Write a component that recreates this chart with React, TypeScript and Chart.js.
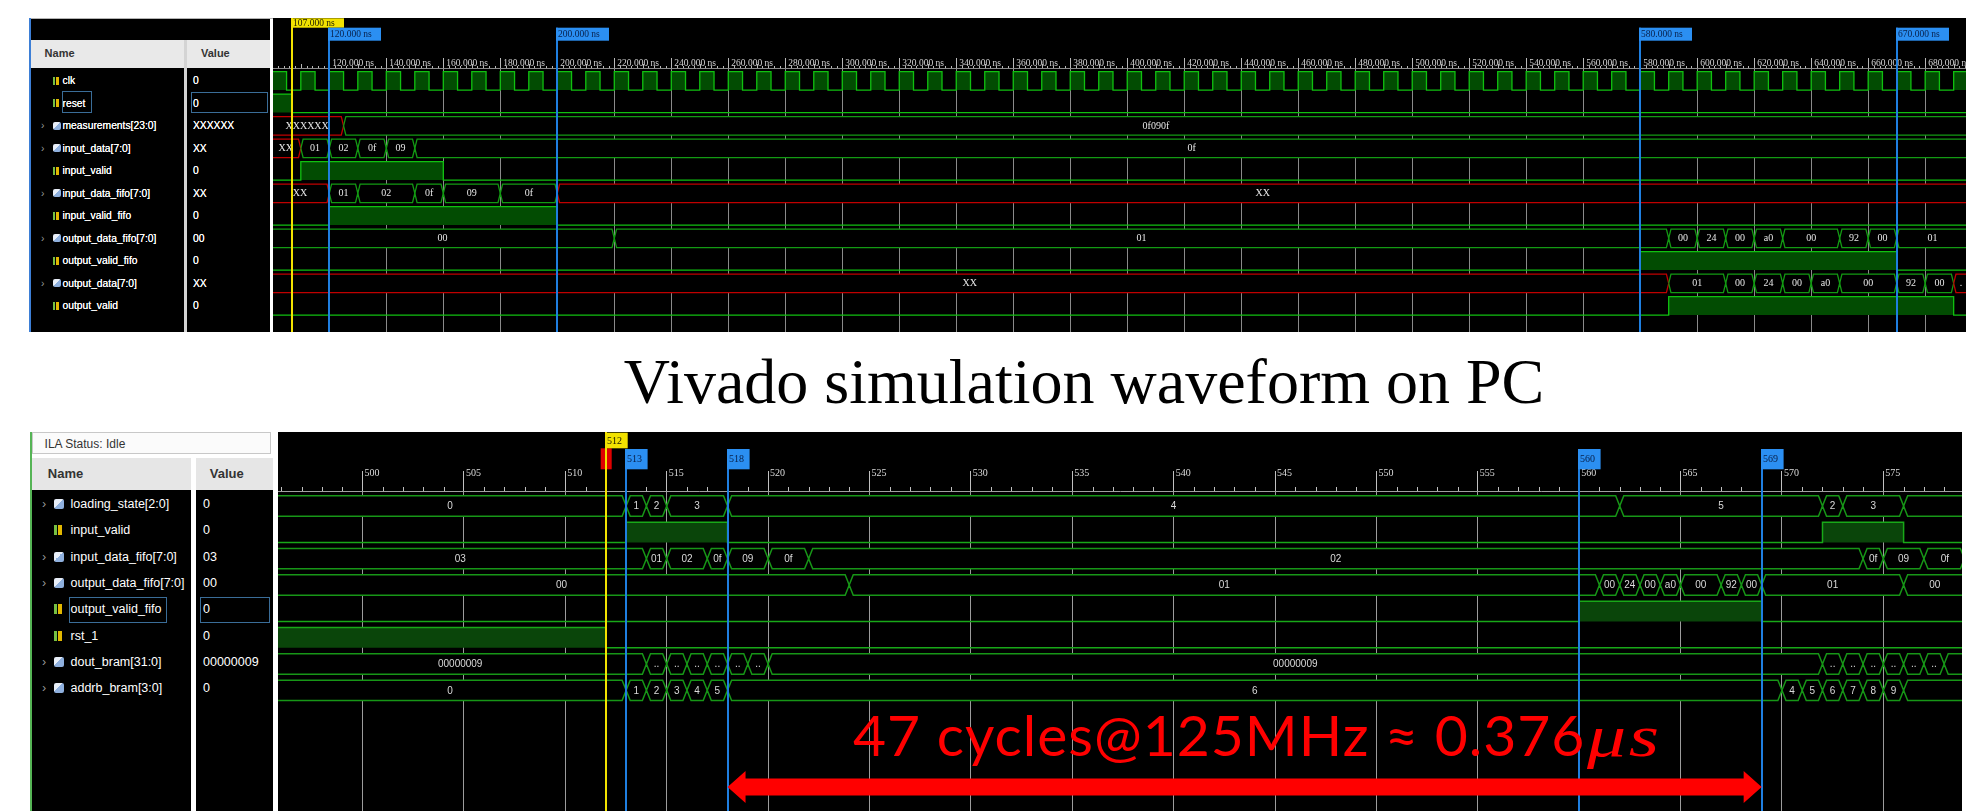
import React, { useEffect, useRef } from 'react';
import { Chart, registerables } from 'chart.js';

Chart.register(...registerables);

// ================= Top: Vivado simulation (time in ns) =================
const topSignalNames = ['clk', 'reset', 'measurements[23:0]', 'input_data[7:0]', 'input_valid', 'input_data_fifo[7:0]', 'input_valid_fifo', 'output_data_fifo[7:0]', 'output_valid_fifo', 'output_data[7:0]', 'output_valid'];
const topSignalValues = ['0', '0', 'XXXXXX', 'XX', '0', 'XX', '0', '00', '0', 'XX', '0'];
const topTickNs = [120, 140, 160, 180, 200, 220, 240, 260, 280, 300, 320, 340, 360, 380, 400, 420, 440, 460, 480, 500, 520, 540, 560, 580, 600, 620, 640, 660, 680];
const topCursorNs = [107];
const topMarkerNs = [120, 200, 580, 670];

const clkRiseNs = [100, 110, 120, 130, 140, 150, 160, 170, 180, 190, 200, 210, 220, 230, 240, 250, 260, 270, 280, 290, 300, 310, 320, 330, 340, 350, 360, 370, 380, 390, 400, 410, 420, 430, 440, 450, 460, 470, 480, 490, 500, 510, 520, 530, 540, 550, 560, 570, 580, 590, 600, 610, 620, 630, 640, 650, 660, 670, 680, 690];
const clkHighNs = 5;
const resetHighNs = [[100, 107]];
const measurementsEdgesNs = [125];
const measurementsVals = ['XXXXXX', '0f090f'];
const inputDataEdgesNs = [110, 120, 130, 140, 150];
const inputDataVals = ['XX', '01', '02', '0f', '09', '0f'];
const inputValidHighNs = [[110, 160]];
const inputDataFifoEdgesNs = [120, 130, 150, 160, 180, 200];
const inputDataFifoVals = ['XX', '01', '02', '0f', '09', '0f', 'XX'];
const inputValidFifoHighNs = [[120, 200]];
const outputDataFifoEdgesNs = [220, 590, 600, 610, 620, 630, 650, 660, 670];
const outputDataFifoVals = ['00', '01', '00', '24', '00', 'a0', '00', '92', '00', '01'];
const outputValidFifoHighNs = [[580, 670]];
const outputDataEdgesNs = [590, 610, 620, 630, 640, 650, 670, 680, 690];
const outputDataVals = ['XX', '01', '00', '24', '00', 'a0', '00', '92', '00', 'XX'];
const outputValidHighNs = [[590, 690]];

// ================= Bottom: ILA capture (sample index) =================
const botSignalNames = ['loading_state[2:0]', 'input_valid', 'input_data_fifo[7:0]', 'output_data_fifo[7:0]', 'output_valid_fifo', 'rst_1', 'dout_bram[31:0]', 'addrb_bram[3:0]'];
const botSignalValues = ['0', '0', '03', '00', '0', '0', '00000009', '0'];
const botTickSamples = [500, 505, 510, 515, 520, 525, 530, 535, 540, 545, 550, 555, 560, 565, 570, 575];
const botCursorSamples = [512];
const botMarkerSamples = [513, 518, 560, 569];
const loadingStateEdges = [513, 514, 515, 518, 562, 572, 573, 576];
const loadingStateVals = ['0', '1', '2', '3', '4', '5', '2', '3', ''];
const ilaInputValidHigh = [[513, 518], [572, 576]];
const ilaInputDataFifoEdges = [514, 515, 517, 518, 520, 522, 574, 575, 577, 579];
const ilaInputDataFifoVals = ['03', '01', '02', '0f', '09', '0f', '02', '0f', '09', '0f', ''];
const ilaOutputDataFifoEdges = [524, 561, 562, 563, 564, 565, 567, 568, 569, 576];
const ilaOutputDataFifoVals = ['00', '01', '00', '24', '00', 'a0', '00', '92', '00', '01', '00'];
const ilaOutputValidFifoHigh = [[560, 569]];
const rst1High = [[490, 512]];
const doutBramEdges = [514, 515, 516, 517, 518, 519, 520, 572, 573, 574, 575, 576, 577, 578];
const doutBramVals = ['00000009', '..', '..', '..', '..', '..', '..', '00000009', '..', '..', '..', '..', '..', '..', ''];
const addrbBramEdges = [513, 514, 515, 516, 517, 518, 570, 571, 572, 573, 574, 575, 576];
const addrbBramVals = ['0', '1', '2', '3', '4', '5', '6', '4', '5', '6', '7', '8', '9', ''];
const cycleArrowSamples = [518, 569];

const topRows: any[] = [
  { kind: 'bit', high: clkRiseNs.map((r) => [r, r + clkHighNs]) },
  { kind: 'bit', high: resetHighNs },
  { kind: 'bus', edges: measurementsEdgesNs, values: measurementsVals },
  { kind: 'bus', edges: inputDataEdgesNs, values: inputDataVals },
  { kind: 'bit', high: inputValidHighNs },
  { kind: 'bus', edges: inputDataFifoEdgesNs, values: inputDataFifoVals },
  { kind: 'bit', high: inputValidFifoHighNs },
  { kind: 'bus', edges: outputDataFifoEdgesNs, values: outputDataFifoVals },
  { kind: 'bit', high: outputValidFifoHighNs },
  { kind: 'bus', edges: outputDataEdgesNs, values: outputDataVals },
  { kind: 'bit', high: outputValidHighNs },
];

const botRows: any[] = [
  { kind: 'bus', edges: loadingStateEdges, values: loadingStateVals },
  { kind: 'bit', high: ilaInputValidHigh },
  { kind: 'bus', edges: ilaInputDataFifoEdges, values: ilaInputDataFifoVals },
  { kind: 'bus', edges: ilaOutputDataFifoEdges, values: ilaOutputDataFifoVals },
  { kind: 'bit', high: ilaOutputValidFifoHigh },
  { kind: 'bit', high: rst1High },
  { kind: 'bus', edges: doutBramEdges, values: doutBramVals },
  { kind: 'bus', edges: addrbBramEdges, values: addrbBramVals },
];

const TOP_GEOM = { left: 273, top: 18, width: 1693, height: 314, axisH: 50, xMin: 100.24, xMax: 694.33, yMin: -0.569, yMax: 11.164, half: 0.41, slope: 0.8 };
const BOT_GEOM = { left: 278, top: 432, width: 1684, height: 379, axisH: 59, xMin: 495.83, xMax: 578.88, yMin: -0.57, yMax: 11.583, half: 0.387, slope: 0.2 };

const TOP_STYLE = {
  bit: '#10c010', bus: '#139a13', xColor: '#c00000', fill: '#024c02', lw: 1.3,
  grid: '#8a8a8a', tickColor: '#b8b8b8', axisLine: '#8a8a8a', tickLength: 10, tickPad: -11, labelOffset: 3,
  tickText: '#d4d4d4', tickFont: { family: 'Liberation Serif', size: 9.5 },
  valueFont: '10px "Liberation Serif"', valueText: '#e6e6e6',
  minorStep: 2, midStep: 10, minorLen: 2, midLen: 4,
  markerFont: '9.5px "Liberation Serif"',
  cursorBox: { y: 0.3, h: 9.4, w: 53 }, markerBox: { y: 9.7, h: 13, w: 53 },
  trigger: null as any,
};
const BOT_STYLE = {
  bit: '#18a818', bus: '#179617', xColor: '#c00000', fill: '#0a450a', lw: 1.5,
  grid: '#9c9c9c', tickColor: '#c0c0c0', axisLine: '#a0a0a0', tickLength: 20, tickPad: -8.3, labelOffset: 2,
  tickText: '#dcdcdc', tickFont: { family: 'Liberation Serif', size: 10 },
  valueFont: '10px "Liberation Sans"', valueText: '#dadada',
  minorStep: 1, midStep: 1000, minorLen: 4, midLen: 4,
  markerFont: '10px "Liberation Serif"',
  cursorBox: { y: 0.7, h: 15.6, w: 22.7 }, markerBox: { y: 17, h: 20.3, w: 22.6 },
  trigger: { dx: -5.3, w: 11, y: 16.3, h: 21 },
};

function buildDatasets(rows: any[], g: any, st: any) {
  const ds: any[] = [];
  rows.forEach((r, i) => {
    const lo = i + g.half;
    const hi = i - g.half;
    if (r.kind === 'bit') {
      const pts: any[] = [{ x: g.xMin - 10, y: lo }];
      r.high.forEach(([a, b]: number[]) => {
        pts.push({ x: a, y: lo }, { x: a, y: hi }, { x: b, y: hi }, { x: b, y: lo });
      });
      pts.push({ x: g.xMax + 10, y: lo });
      ds.push({ data: pts, borderColor: st.bit, borderWidth: st.lw, backgroundColor: st.fill, fill: { value: lo }, pointRadius: 0, tension: 0, clip: 0 });
    } else {
      const d = g.slope;
      const top: any[] = [{ x: g.xMin - 10, y: hi }];
      const bot: any[] = [{ x: g.xMin - 10, y: lo }];
      r.edges.forEach((t: number) => {
        top.push({ x: t - d, y: hi }, { x: t, y: i }, { x: t + d, y: hi });
        bot.push({ x: t - d, y: lo }, { x: t, y: i }, { x: t + d, y: lo });
      });
      top.push({ x: g.xMax + 10, y: hi });
      bot.push({ x: g.xMax + 10, y: lo });
      const colorAt = (x: number) => {
        let k = 0;
        while (k < r.edges.length && r.edges[k] <= x) k++;
        return /X/.test(r.values[k] || '') ? st.xColor : st.bus;
      };
      const seg = { borderColor: (c: any) => colorAt((c.p0.parsed.x + c.p1.parsed.x) / 2) };
      ds.push({ data: top, borderColor: st.bus, borderWidth: st.lw, fill: false, pointRadius: 0, tension: 0, clip: 0, segment: seg });
      ds.push({ data: bot, borderColor: st.bus, borderWidth: st.lw, fill: '-1', backgroundColor: '#000000', pointRadius: 0, tension: 0, clip: 0, segment: seg });
    }
  });
  return ds;
}

function WaveChart(props: any) {
  const { geom, rows, ticks, tickLabel, cursors, markers, markerLabel, st, arrow, arrowY } = props;
  const ref = useRef<HTMLCanvasElement>(null);
  useEffect(() => {
    const canvas = ref.current as HTMLCanvasElement;
    const datasets = buildDatasets(rows, geom, st);
    const decor = {
      id: 'waveDecor',
      afterDatasetsDraw(chart: any) {
        const { ctx, chartArea: ca } = chart;
        const xs = chart.scales.x;
        const ys = chart.scales.y;
        const dPx = xs.getPixelForValue(geom.xMin + geom.slope) - xs.getPixelForValue(geom.xMin);
        ctx.save();
        ctx.beginPath();
        ctx.rect(ca.left, ca.top, ca.right - ca.left, ca.bottom - ca.top);
        ctx.clip();
        ctx.font = st.valueFont;
        ctx.fillStyle = st.valueText;
        ctx.textAlign = 'center';
        ctx.textBaseline = 'middle';
        rows.forEach((r: any, i: number) => {
          if (r.kind !== 'bus') return;
          const y = ys.getPixelForValue(i) + 0.5;
          const bounds = [-Infinity, ...r.edges, Infinity];
          for (let k = 0; k < r.values.length; k++) {
            const a = Math.max(bounds[k], xs.min);
            const b = Math.min(bounds[k + 1], xs.max);
            if (b <= a) continue;
            const pa = xs.getPixelForValue(a) + (bounds[k] > xs.min ? dPx : 0);
            const pb = xs.getPixelForValue(b) - (bounds[k + 1] < xs.max ? dPx : 0);
            const avail = pb - pa;
            let txt = r.values[k];
            if (!txt) continue;
            if (txt === '..' || ctx.measureText(txt).width > avail) {
              txt = ctx.measureText('..').width + 6 <= avail ? '..' : '.';
            }
            if (ctx.measureText(txt).width > avail) continue;
            ctx.fillText(txt, (pa + pb) / 2, y);
          }
        });
        ctx.restore();
      },
      afterDraw(chart: any) {
        const { ctx } = chart;
        const xs = chart.scales.x;
        const H = chart.height;
        ctx.save();
        // minor ticks along the time axis
        ctx.strokeStyle = st.tickColor;
        ctx.lineWidth = 1;
        const k0 = Math.ceil(xs.min / st.minorStep);
        for (let k = k0; k * st.minorStep <= xs.max; k++) {
          const v = k * st.minorStep;
          if (ticks.includes(v)) continue;
          const len = v % st.midStep === 0 ? st.midLen : st.minorLen;
          const px = Math.round(xs.getPixelForValue(v)) + 0.5;
          ctx.beginPath();
          ctx.moveTo(px, xs.bottom - len);
          ctx.lineTo(px, xs.bottom);
          ctx.stroke();
        }
        // cursor (yellow) and markers (blue)
        ctx.font = st.markerFont;
        ctx.textBaseline = 'middle';
        ctx.textAlign = 'left';
        cursors.forEach((v: number) => {
          const px = Math.round(xs.getPixelForValue(v));
          if (st.trigger) {
            ctx.fillStyle = '#e00000';
            ctx.fillRect(px + st.trigger.dx, st.trigger.y, st.trigger.w, st.trigger.h);
          }
          ctx.fillStyle = '#f2e200';
          ctx.fillRect(px - 1, 0, 2, H);
          ctx.fillRect(px - 1, st.cursorBox.y, st.cursorBox.w, st.cursorBox.h);
          ctx.fillStyle = '#1a1a00';
          ctx.fillText(markerLabel(v), px + 1, st.cursorBox.y + st.cursorBox.h / 2 + 0.5);
        });
        markers.forEach((v: number) => {
          const px = Math.round(xs.getPixelForValue(v));
          ctx.fillStyle = '#1f7fe0';
          ctx.fillRect(px - 1, st.markerBox.y, 2, H - st.markerBox.y);
          ctx.fillStyle = '#2b8ff2';
          ctx.fillRect(px - 1, st.markerBox.y, st.markerBox.w, st.markerBox.h);
          ctx.fillStyle = '#08204a';
          ctx.fillText(markerLabel(v), px + 1, st.markerBox.y + st.markerBox.h / 2 + 0.5);
        });
        // measurement arrow
        if (arrow) {
          const x0 = xs.getPixelForValue(arrow[0]);
          const x1 = xs.getPixelForValue(arrow[1]);
          const y = arrowY;
          const sh = 8.5, hh = 16, hl = 18;
          ctx.fillStyle = '#ff0000';
          ctx.beginPath();
          ctx.moveTo(x0, y);
          ctx.lineTo(x0 + hl, y - hh);
          ctx.lineTo(x0 + hl, y - sh);
          ctx.lineTo(x1 - hl, y - sh);
          ctx.lineTo(x1 - hl, y - hh);
          ctx.lineTo(x1, y);
          ctx.lineTo(x1 - hl, y + hh);
          ctx.lineTo(x1 - hl, y + sh);
          ctx.lineTo(x0 + hl, y + sh);
          ctx.lineTo(x0 + hl, y + hh);
          ctx.closePath();
          ctx.fill();
        }
        ctx.restore();
      },
    };
    const chart = new Chart(canvas, {
      type: 'line',
      data: { datasets },
      options: {
        animation: false,
        responsive: false,
        devicePixelRatio: 1,
        events: [],
        layout: { padding: 0 },
        plugins: { legend: { display: false }, tooltip: { enabled: false }, title: { display: false } },
        scales: {
          x: {
            type: 'linear',
            position: 'top',
            min: geom.xMin,
            max: geom.xMax,
            afterBuildTicks: (s: any) => { s.ticks = ticks.map((v: number) => ({ value: v })); },
            afterFit: (s: any) => { s.height = geom.axisH; s.paddingLeft = 0; s.paddingRight = 0; },
            grid: { color: st.grid, lineWidth: 1, drawTicks: true, tickLength: st.tickLength, tickColor: st.tickColor, tickWidth: 1 },
            border: { display: true, color: st.axisLine, width: 1 },
            ticks: {
              autoSkip: false, maxRotation: 0, minRotation: 0, align: 'start',
              padding: st.tickPad, labelOffset: st.labelOffset, color: st.tickText, font: st.tickFont,
              callback: (v: any) => tickLabel(Number(v)),
            },
          },
          y: { type: 'linear', display: false, min: geom.yMin, max: geom.yMax, reverse: true },
        },
      } as any,
      plugins: [decor],
    } as any);
    return () => chart.destroy();
  }, []);
  return (
    <canvas
      ref={ref}
      width={geom.width}
      height={geom.height}
      style={{ position: 'absolute', left: geom.left, top: geom.top, width: geom.width, height: geom.height, background: '#000' }}
    />
  );
}

function Abs(props: any) {
  const { x, y, w, h, bg, children, style } = props;
  return <div style={{ position: 'absolute', left: x, top: y, width: w, height: h, background: bg, ...style }}>{children}</div>;
}

function SignalList(props: any) {
  const { names, values, cy0, pitch, font, chevX, iconX, nameX, valueX, iconH, selected, shadow } = props;
  const lh = Math.round(font * 1.3);
  const txt = { position: 'absolute', lineHeight: lh + 'px', fontFamily: 'Liberation Sans', fontSize: font, color: '#ffffff', whiteSpace: 'nowrap', textShadow: shadow } as any;
  return (
    <>
      {names.map((n: string, i: number) => {
        const cy = cy0 + pitch * i;
        const bus = n.includes('[');
        return (
          <React.Fragment key={n}>
            {bus && (
              <div style={{ position: 'absolute', left: chevX, top: cy - lh / 2, lineHeight: lh + 'px', fontFamily: 'Liberation Sans', fontSize: font, color: '#9a9a9a' }}>›</div>
            )}
            {bus ? (
              <div style={{ position: 'absolute', left: iconX, top: cy - iconH / 2, width: iconH, height: iconH, background: 'linear-gradient(135deg,#e8eef8 0 45%,#8fb0de 45%)', borderRadius: 2 }} />
            ) : (
              <div style={{ position: 'absolute', left: iconX, top: cy - iconH / 2, width: iconH * 0.8, height: iconH, background: 'linear-gradient(90deg,#76c043 0 35%,transparent 35% 55%,#e2b700 55%)' }} />
            )}
            <div style={{ ...txt, left: nameX, top: cy - lh / 2 }}>{n}</div>
            <div style={{ ...txt, left: valueX, top: cy - lh / 2 }}>{values[i]}</div>
          </React.Fragment>
        );
      })}
      {selected.map((b: any, k: number) => (
        <div key={'sel' + k} style={{ position: 'absolute', left: b[0], top: b[1], width: b[2], height: b[3], border: '1px solid #3a6d98', boxSizing: 'border-box' }} />
      ))}
    </>
  );
}

export default function App() {
  return (
    <div style={{ position: 'absolute', left: 0, top: 0, width: 1987, height: 811, background: '#ffffff', overflow: 'hidden' }}>
      {/* ---------- top panel ---------- */}
      <Abs x={29} y={18} w={1937} h={1} bg="#b4b4b4" />
      <Abs x={29} y={18} w={2} h={314} bg="#3d7fd6" />
      <Abs x={31} y={19} w={239} h={313} bg="#000" />
      <Abs x={184} y={40} w={3} h={292} bg="#d4d4d4" />
      <Abs x={31} y={40} w={153} h={28} bg="#e9e9e9" />
      <Abs x={187} y={40} w={83} h={28} bg="#e9e9e9" />
      <div style={{ position: 'absolute', left: 44.6, top: 46, lineHeight: '14px', fontFamily: 'Liberation Sans', fontWeight: 'bold', fontSize: 11, color: '#333' }}>Name</div>
      <div style={{ position: 'absolute', left: 201, top: 46, lineHeight: '14px', fontFamily: 'Liberation Sans', fontWeight: 'bold', fontSize: 11, color: '#333' }}>Value</div>
      <SignalList
        names={topSignalNames}
        values={topSignalValues}
        cy0={80.8}
        pitch={22.5}
        font={10.3}
        chevX={41}
        iconX={53}
        nameX={62.5}
        valueX={193}
        iconH={8}
        shadow="0 0 0.4px #fff"
        selected={[[61.6, 91, 30, 22], [190.6, 91.7, 77, 21.6]]}
      />
      <WaveChart
        geom={TOP_GEOM}
        rows={topRows}
        ticks={topTickNs}
        tickLabel={(v: number) => v.toFixed(3) + ' ns'}
        cursors={topCursorNs}
        markers={topMarkerNs}
        markerLabel={(v: number) => v.toFixed(3) + ' ns'}
        st={TOP_STYLE}
        arrow={null}
        arrowY={0}
      />

      {/* ---------- caption ---------- */}
      <div style={{ position: 'absolute', left: 1084, top: 349.7, transform: 'translateX(-50%)', whiteSpace: 'nowrap', fontFamily: 'Liberation Serif', fontSize: 64, lineHeight: '64px', color: '#000' }}>
        Vivado simulation waveform on PC
      </div>

      {/* ---------- bottom panel ---------- */}
      <Abs x={30} y={432} w={2} h={379} bg="#55b455" />
      <Abs x={32} y={432} w={239} h={22} bg="#fbfbfb" style={{ border: '1px solid #c8c8c8', boxSizing: 'border-box' }} />
      <div style={{ position: 'absolute', left: 44.6, top: 436, lineHeight: '16px', fontFamily: 'Liberation Sans', fontSize: 12, color: '#333' }}>ILA Status: Idle</div>
      <Abs x={32} y={458} w={159} h={32} bg="#e6e6e6" />
      <Abs x={196} y={458} w={77} h={32} bg="#e6e6e6" />
      <Abs x={32} y={490} w={159} h={321} bg="#000" />
      <Abs x={196} y={490} w={77} h={321} bg="#000" />
      <div style={{ position: 'absolute', left: 47.8, top: 465, lineHeight: '17px', fontFamily: 'Liberation Sans', fontWeight: 'bold', fontSize: 13, color: '#333' }}>Name</div>
      <div style={{ position: 'absolute', left: 209.8, top: 465, lineHeight: '17px', fontFamily: 'Liberation Sans', fontWeight: 'bold', fontSize: 13, color: '#333' }}>Value</div>
      <SignalList
        names={botSignalNames}
        values={botSignalValues}
        cy0={504}
        pitch={26.33}
        font={12.5}
        chevX={42}
        iconX={54}
        nameX={70.5}
        valueX={203}
        iconH={10}
        shadow="none"
        selected={[[69, 596.7, 98.4, 26], [200, 596.7, 70, 26]]}
      />
      <WaveChart
        geom={BOT_GEOM}
        rows={botRows}
        ticks={botTickSamples}
        tickLabel={(v: number) => String(v)}
        cursors={botCursorSamples}
        markers={botMarkerSamples}
        markerLabel={(v: number) => String(v)}
        st={BOT_STYLE}
        arrow={cycleArrowSamples}
        arrowY={355}
      />
      <div style={{ position: 'absolute', left: 853, top: 705.5, whiteSpace: 'nowrap', fontFamily: 'Lato', fontSize: 57, lineHeight: '57px', letterSpacing: '1px', color: '#ff0000' }}>
        47 cycles@125MHz ≈ 0.376
        <span style={{ display: 'inline-block', marginLeft: 2, fontFamily: 'Liberation Serif', fontStyle: 'italic', fontSize: 60, letterSpacing: '2px', transform: 'scaleX(1.3)', transformOrigin: 'left center' }}>μs</span>
      </div>
    </div>
  );
}
